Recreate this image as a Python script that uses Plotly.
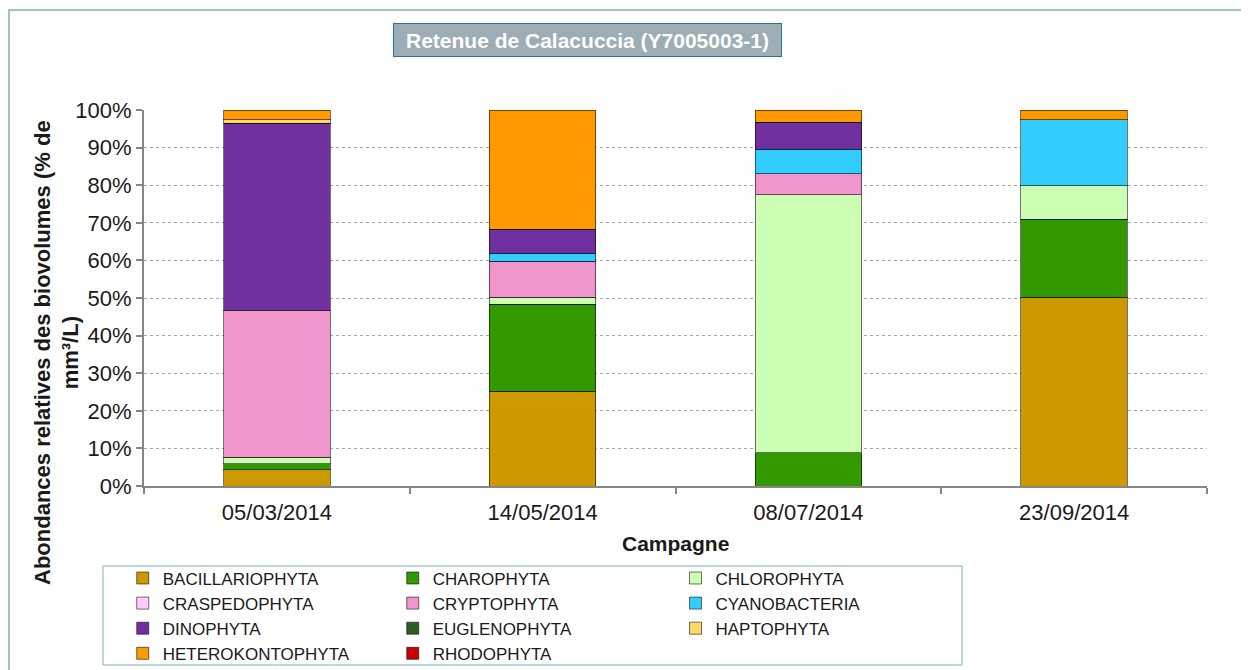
import plotly.graph_objects as go

campagnes = ["05/03/2014", "14/05/2014", "08/07/2014", "23/09/2014"]

bacillariophyta = [4.3, 25.2, None, 50.2]
charophyta = [1.6, 23.2, 8.9, 20.7]
chlorophyta = [1.8, 1.8, 68.6, 8.9]
craspedophyta = [None, None, None, None]
cryptophyta = [39.0, 9.6, 5.5, None]
cyanobacteria = [None, 2.1, 6.6, 17.6]
dinophyta = [49.8, 6.4, 7.1, None]
euglenophyta = [None, None, None, None]
haptophyta = [0.9, None, None, None]
heterokontophyta = [2.6, 31.7, 3.3, 2.6]
rhodophyta = [None, None, None, None]

# (name, values, colour, legend column)
series = [
    ("BACILLARIOPHYTA", bacillariophyta, "#CC9900", "legend"),
    ("CHAROPHYTA", charophyta, "#339900", "legend2"),
    ("CHLOROPHYTA", chlorophyta, "#CCFFB3", "legend3"),
    ("CRASPEDOPHYTA", craspedophyta, "#FFCCFF", "legend"),
    ("CRYPTOPHYTA", cryptophyta, "#F096CC", "legend2"),
    ("CYANOBACTERIA", cyanobacteria, "#33CCFF", "legend3"),
    ("DINOPHYTA", dinophyta, "#7030A0", "legend"),
    ("EUGLENOPHYTA", euglenophyta, "#2E5E22", "legend2"),
    ("HAPTOPHYTA", haptophyta, "#FFD966", "legend3"),
    ("HETEROKONTOPHYTA", heterokontophyta, "#FF9900", "legend"),
    ("RHODOPHYTA", rhodophyta, "#CC0000", "legend2"),
]

fig = go.Figure()
for name, vals, color, leg in series:
    fig.add_trace(go.Bar(
        x=campagnes,
        y=vals,
        name=name,
        legend=leg,
        marker=dict(color=color, line=dict(color="rgba(0,0,0,0.55)", width=1)),
    ))

axis_grey = "#868686"
frame_col = "#79B2BE"
font_main = "Arial, Liberation Sans, sans-serif"

legend_common = dict(
    orientation="v",
    traceorder="normal",
    y=-0.198,
    yanchor="top",
    xanchor="left",
    font=dict(size=17, color="#1a1a1a"),
    borderwidth=0,
    bgcolor="rgba(0,0,0,0)",
)

# the page has an 8px body margin, so the figure starts 8px in
fig.update_layout(
    width=1233,
    height=662,
    margin=dict(l=136, r=34, t=102, b=184, autoexpand=False),
    barmode="stack",
    bargap=0.6,
    plot_bgcolor="white",
    paper_bgcolor="white",
    font=dict(family=font_main, size=22, color="#1a1a1a"),
    showlegend=True,
    legend=dict(legend_common, x=-0.02),
    legend2=dict(legend_common, x=0.234),
    legend3=dict(legend_common, x=0.500),
    xaxis=dict(
        showline=True,
        linecolor=axis_grey,
        linewidth=2,
        ticks="outside",
        tickson="boundaries",
        ticklen=6,
        tickcolor=axis_grey,
        tickwidth=1.5,
        ticklabelstandoff=6,
        showgrid=False,
        tickfont=dict(size=22),
    ),
    yaxis=dict(
        range=[0, 100],
        dtick=10,
        ticksuffix="%",
        showline=True,
        linecolor=axis_grey,
        linewidth=2,
        ticks="outside",
        ticklen=6,
        tickcolor=axis_grey,
        tickwidth=1.5,
        showgrid=True,
        gridcolor="#A6A6A6",
        griddash="dot",
        gridwidth=1,
        zeroline=False,
        tickfont=dict(size=22),
    ),
)

# outer frame of the chart
fig.add_shape(
    type="rect", xref="paper", yref="paper",
    x0=-0.127, x1=1.2, y0=-0.6, y1=1.266,
    line=dict(color=frame_col, width=1.5),
    fillcolor="rgba(0,0,0,0)",
    layer="below",
)

# legend frame
fig.add_shape(
    type="rect", xref="paper", yref="paper",
    x0=-0.0386, x1=0.7695, y0=-0.476, y1=-0.2128,
    line=dict(color=frame_col, width=1),
    fillcolor="rgba(0,0,0,0)",
)

# title box
fig.add_annotation(
    text="<b>Retenue de Calacuccia (Y7005003-1)</b>",
    xref="paper", yref="paper",
    x=0.417, y=1.187,
    xanchor="center", yanchor="middle",
    width=383, height=28,
    showarrow=False,
    font=dict(size=21, color="white"),
    bgcolor="#9DADB6",
    bordercolor="#1F7991",
    borderwidth=1,
    borderpad=2,
)

# x axis title
fig.add_annotation(
    text="<b>Campagne</b>",
    xref="paper", yref="paper",
    x=0.5, y=-0.154,
    xanchor="center", yanchor="middle",
    showarrow=False,
    font=dict(size=21, color="#1a1a1a"),
)

# y axis title
fig.add_annotation(
    text="<b>Abondances relatives des biovolumes (% de<br>mm³/L)</b>",
    xref="paper", yref="paper",
    x=-0.082, y=0.356,
    xanchor="center", yanchor="middle",
    textangle=-90,
    showarrow=False,
    font=dict(size=22, color="#1a1a1a"),
)

fig.write_html("out.html")
